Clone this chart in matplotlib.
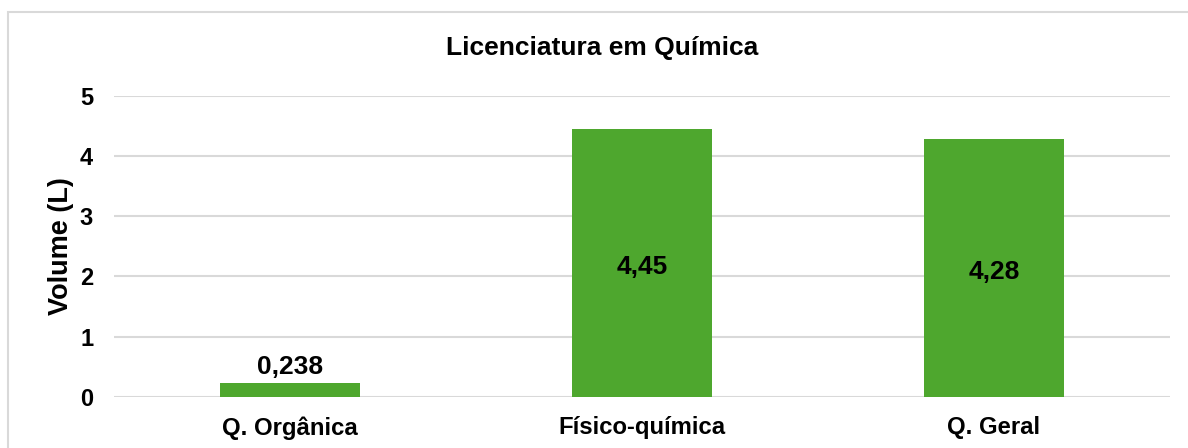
import matplotlib
matplotlib.use('Agg')
from matplotlib import pyplot as plt
from matplotlib.patches import Rectangle

plt.rcParams['font.family'] = ['Liberation Sans', 'DejaVu Sans']
plt.rcParams['font.weight'] = 'bold'

categorias = ['Q. Orgânica', 'Físico-química', 'Q. Geral']
volumes = [0.238, 4.45, 4.28]
rotulos = ['0,238', '4,45', '4,28']
yticks = [0, 1, 2, 3, 4, 5]

verde = '#4EA72E'
cinza = '#D9D9D9'

W, H = 1188, 448
fig = plt.figure(figsize=(W/100, H/100), dpi=100)
ax = fig.add_axes([114/W, (H-397)/H, (1170-114)/W, (397-95.7)/H])

# moldura do grafico (cortada a direita e embaixo)
fig.patches.append(Rectangle((8/W, -0.05), 1.2, (H-12)/H + 0.05, transform=fig.transFigure,
                             fill=False, edgecolor=cinza, linewidth=1.5, zorder=0))

x = range(len(categorias))
ax.bar(x, volumes, width=0.4, color=verde, zorder=3)
ax.set_xlim(-0.5, len(categorias)-0.5)
ax.set_ylim(0, 5)
ax.set_yticks(yticks)
ax.set_xticks(list(x))
ax.set_xticklabels(categorias, fontsize=17.2, fontweight='bold')
ax.tick_params(axis='y', labelsize=17, length=0, pad=15)
ax.tick_params(axis='x', length=0, pad=14)
ax.yaxis.grid(True, color=cinza, linewidth=1.5, zorder=0)
for s in ax.spines.values():
    s.set_visible(False)
ax.set_axisbelow(True)

for i, (v, r) in enumerate(zip(volumes, rotulos)):
    if v < 1:
        ax.text(i, v + 0.06, r, ha='center', va='bottom', fontsize=19, fontweight='bold')
    else:
        ax.text(i, v/2 - 0.07, r, ha='center', va='center', fontsize=19, fontweight='bold')

ax.set_ylabel('Volume (L)', fontsize=19.5, fontweight='bold')
ax.yaxis.set_label_coords((74-114)/(1170-114), 0.5)
fig.text(602/W, 1 - 48/H, 'Licenciatura em Química', ha='center', va='center',
         fontsize=19, fontweight='bold')

fig.savefig('out.png', dpi=100)
